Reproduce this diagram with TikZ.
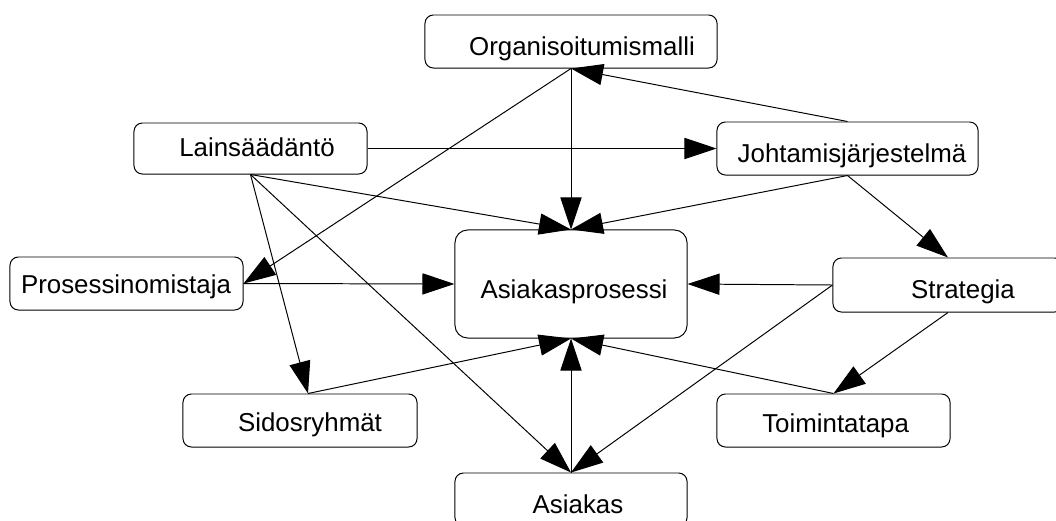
\documentclass[tikz,border=0pt]{standalone}
\usepackage{fontspec}
\setmainfont{Liberation Sans}
\usetikzlibrary{arrows.meta}
\tikzset{
  box/.style={draw=black, line width=0.7pt, rounded corners=6pt, inner sep=0pt, minimum height=1.325cm},
  lbl/.style={anchor=base, inner sep=0pt, font=\fontsize{18.4}{22}\selectfont},
  link/.style={line width=0.7pt, -{Triangle[length=0.8cm,width=0.53cm]}}
}
\begin{document}
\begin{tikzpicture}[x=0.025cm,y=-0.025cm]
\useasboundingbox (0,0) rectangle (1056,520);
\clip (0,0) rectangle (1056,520);

% boxes
\node[box,minimum width=7.3cm] (org) at (571,41.5) {};
\node[box,minimum width=5.825cm,minimum height=1.275cm] (lain) at (250.5,148.5) {};
\node[box,minimum width=6.525cm] (joht) at (847.5,148.5) {};
\node[box,minimum width=5.825cm] (proc) at (126.5,283.5) {};
\node[box,minimum width=5.8cm,minimum height=2.7cm,rounded corners=9pt] (ap) at (571,284) {};
\node[box,minimum width=5.75cm,minimum height=1.35cm] (strat) at (948,285) {};
\node[box,minimum width=5.85cm] (sido) at (300,420.5) {};
\node[box,minimum width=5.825cm] (toim) at (833.5,420.5) {};
\node[box,minimum width=5.8cm] (asiak) at (571,499.5) {};

% box texts
\node[lbl] (orgT) at (582,55) {Organisoitumismalli};
\node[lbl] (lainT) at (257,156.7) {Lainsäädäntö};
\node[lbl] (johtT) at (852,162.3) {Johtamisjärjestelmä};
\node[lbl] (procT) at (126,293.3) {Prosessinomistaja};
\node[lbl] (apT) at (574,298) {Asiakasprosessi};
\node[lbl] (stratT) at (963,298.3) {Strategia};
\node[lbl] (sidoT) at (310,431.7) {Sidosryhmät};
\node[lbl] (toimT) at (835.6,432.3) {Toimintatapa};
\node[lbl] (asiakT) at (578,513) {Asiakas};

% connectors
\coordinate (sidoN) at ([xshift=0.2cm]sido.north);
\draw[link] (org.south) -- (ap.north);
\draw[link] (org.south) -- (proc.east);
\draw[link] (joht.north) -- (org.south);
\draw[link] (lain.east) -- (joht.west);
\draw[link] (lain.south) -- (ap.north);
\draw[link] (lain.south) -- (sidoN);
\draw[link] (lain.south) -- (asiak.north);
\draw[link] (joht.south) -- (ap.north);
\draw[link] (joht.south) -- (strat.north);
\draw[link] (proc.east) -- (ap.west);
\draw[link] (strat.west) -- (ap.east);
\draw[link] (strat.west) -- (asiak.north);
\draw[link] (strat.south) -- (toim.north);
\draw[link] (sidoN) -- (ap.south);
\draw[link] (toim.north) -- (ap.south);
\draw[link] (asiak.north) -- (ap.south);
\end{tikzpicture}
\end{document}
